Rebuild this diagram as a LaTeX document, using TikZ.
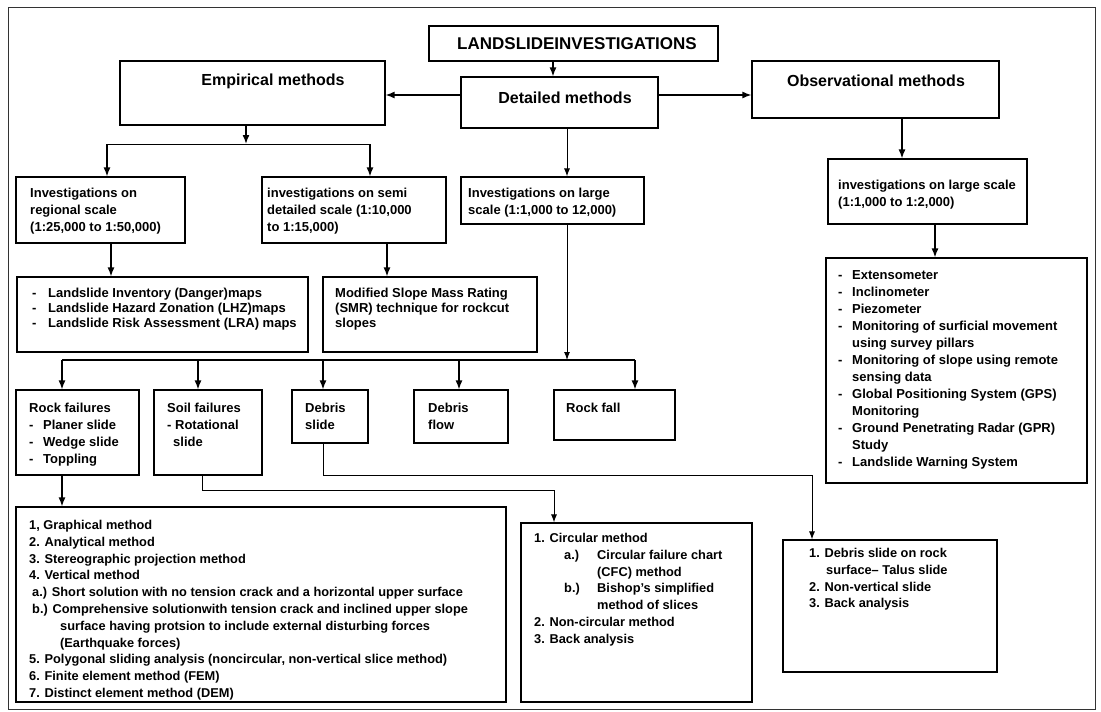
\documentclass[tikz,border=0pt]{standalone}
\usepackage{fontspec}
\setmainfont{Liberation Sans}
\usetikzlibrary{arrows.meta,fit}
\begin{document}
\begin{tikzpicture}[x=1pt,y=-1pt,
  bx/.style={draw, line width=1.1pt, inner sep=0pt},
  hd/.style={font=\fontsize{16}{19}\selectfont\bfseries, inner sep=0pt},
  tx/.style={font=\fontsize{13}{17}\selectfont\bfseries, inner sep=0pt, anchor=north west, align=left},
  txs/.style={font=\fontsize{13}{15}\selectfont\bfseries, inner sep=0pt, anchor=north west, align=left},
  txb/.style={font=\fontsize{12.8}{16.8}\selectfont\bfseries, inner sep=0pt, anchor=north west, align=left},
  arr/.style={line width=1.5pt, -{Latex[length=9pt,width=7pt]}},
  arrthin/.style={line width=1pt, -{Latex[length=8pt,width=6pt]}},
  thinln/.style={line width=1pt}]
\useasboundingbox (0,0) rectangle (1101,712);
% outer frame
\draw[line width=0.8pt, black!80] (8,7) rectangle (1095,709);

% top level
\node[bx, fit={(429,26) (718,61)}] (title) {};
\node[hd, font=\fontsize{17}{20}\selectfont\bfseries] (titlet) at (577,44) {LANDSLIDEINVESTIGATIONS};
\node[bx, fit={(120,61) (385,125)}] (emp) {};
\node[hd] (empt) at (273,81) {Empirical methods};
\node[bx, fit={(461,77) (658,128)}] (det) {};
\node[hd] (dett) at (565,98) {Detailed methods};
\node[bx, fit={(752,61) (999,118)}] (obs) {};
\node[hd] (obst) at (876,81) {Observational methods};

% investigation scale boxes
\node[bx, fit={(16,177) (185,243)}] (reg) {};
\node[tx] (regt) at (30,188) {Investigations on\\regional scale\\(1:25,000 to 1:50,000)};
\node[bx, fit={(262,177) (446,243)}] (semi) {};
\node[tx] (semit) at (267,188) {investigations on semi\\detailed scale (1:10,000\\to 1:15,000)};
\node[bx, fit={(461,177) (644,224)}] (large) {};
\node[tx] (larget) at (468,188) {Investigations on large\\scale (1:1,000 to 12,000)};
\node[bx, fit={(828,159) (1027,224)}] (obsinv) {};
\node[tx] (obsinvt) at (838,180) {investigations on large scale\\(1:1,000 to 1:2,000)};

% maps and SMR
\node[bx, fit={(17,277) (308,352)}] (maps) {};
\node[txs] (mapst) at (32,288) {\makebox[16pt][l]{-}Landslide Inventory (Danger)maps\\
\makebox[16pt][l]{-}Landslide Hazard Zonation (LHZ)maps\\
\makebox[16pt][l]{-}Landslide Risk Assessment (LRA) maps};
\node[bx, fit={(323,277) (537,352)}] (smr) {};
\node[txs] (smrt) at (335,288) {Modified Slope Mass Rating\\(SMR) technique for rockcut\\slopes};

% monitoring
\node[bx, fit={(826,258) (1087,483)}] (mon) {};
\node[tx] (mont) at (838,270) {\makebox[14pt][l]{-}Extensometer\\
\makebox[14pt][l]{-}Inclinometer\\
\makebox[14pt][l]{-}Piezometer\\
\makebox[14pt][l]{-}Monitoring of surficial movement\\
\hspace*{14pt}using survey pillars\\
\makebox[14pt][l]{-}Monitoring of slope using remote\\
\hspace*{14pt}sensing data\\
\makebox[14pt][l]{-}Global Positioning System (GPS)\\
\hspace*{14pt}Monitoring\\
\makebox[14pt][l]{-}Ground Penetrating Radar (GPR)\\
\hspace*{14pt}Study\\
\makebox[14pt][l]{-}Landslide Warning System};

% failure types
\node[bx, fit={(16,390) (139,475)}] (rockf) {};
\node[tx] (rockft) at (29,403) {Rock failures\\
\makebox[14pt][l]{-}Planer slide\\
\makebox[14pt][l]{-}Wedge slide\\
\makebox[14pt][l]{-}Toppling};
\node[bx, fit={(154,390) (262,475)}] (soil) {};
\node[tx] (soilt) at (167,403) {Soil failures\\- Rotational\\\hspace*{6pt}slide};
\node[bx, fit={(292,390) (368,443)}] (dslide) {};
\node[tx] (dslidet) at (305,403) {Debris\\slide};
\node[bx, fit={(414,390) (508,443)}] (dflow) {};
\node[tx] (dflowt) at (428,403) {Debris\\flow};
\node[bx, fit={(554,390) (675,440)}] (rfall) {};
\node[tx] (rfallt) at (566,403) {Rock fall};

% analysis boxes
\node[bx, fit={(16,507) (506,702)}] (big) {};
\node[txb] (bigt) at (29,520) {1, Graphical method\\
2. Analytical method\\
3. Stereographic projection method\\
4. Vertical method\\
\hspace*{3pt}a.) Short solution with no tension crack and a horizontal upper surface\\
\hspace*{3pt}b.) Comprehensive solutionwith tension crack and inclined upper slope\\
\hspace*{31pt}surface having protsion to include external disturbing forces\\
\hspace*{31pt}(Earthquake forces)\\
5. Polygonal sliding analysis (noncircular, non-vertical slice method)\\
6. Finite element method (FEM)\\
7. Distinct element method (DEM)};
\node[bx, fit={(521,523) (752,702)}] (circ) {};
\node[txb] (circt) at (534,533) {1. Circular method\\
\hspace*{30pt}\makebox[33pt][l]{a.)}Circular failure chart\\
\hspace*{63pt}(CFC) method\\
\hspace*{30pt}\makebox[33pt][l]{b.)}Bishop's simplified\\
\hspace*{63pt}method of slices\\
2. Non-circular method\\
3. Back analysis};
\node[bx, fit={(783,540) (997,672)}] (talus) {};
\node[txb] (talust) at (809,548) {1. Debris slide on rock\\
\hspace*{17pt}surface-- Talus slide\\
2. Non-vertical slide\\
3. Back analysis};

% connectors
\coordinate (xTD) at (553,0);
\draw[arr] (title.south -| xTD) -- (det.north -| xTD);
\coordinate (yH) at (0,95);
\draw[arr] (det.west |- yH) -- (emp.east |- yH);
\draw[arr] (det.east |- yH) -- (obs.west |- yH);
\coordinate (xE) at (246,144);
\draw[arr] (emp.south -| xE) -- (xE);
\coordinate (sL) at (107,144);
\coordinate (sR) at (370,144);
\draw[thinln] (sL) -- (sR);
\draw[arr] (sL) -- (reg.north -| sL);
\draw[arr] (sR) -- (semi.north -| sR);
\coordinate (xD) at (567,0);
\draw[arrthin] (det.south -| xD) -- (large.north -| xD);
\coordinate (xO) at (902,0);
\draw[arr] (obs.south -| xO) -- (obsinv.north -| xO);
\coordinate (xOI) at (935,0);
\draw[arr] (obsinv.south -| xOI) -- (mon.north -| xOI);
\coordinate (xR) at (111,0);
\draw[arr] (reg.south -| xR) -- (maps.north -| xR);
\coordinate (xS) at (387,0);
\draw[arr] (semi.south -| xS) -- (smr.north -| xS);
\coordinate (bL) at (62,360);
\coordinate (bR) at (635,360);
\coordinate (bD) at (567,360);
\draw[arrthin] (large.south -| bD) -- (bD);
\draw[line width=1.3pt] (bL) -- (bR);
\draw[arr] (bL) -- (rockf.north -| bL);
\coordinate (b2) at (198,360);
\draw[arr] (b2) -- (soil.north -| b2);
\coordinate (b3) at (323,360);
\draw[arr] (b3) -- (dslide.north -| b3);
\coordinate (b4) at (459,360);
\draw[arr] (b4) -- (dflow.north -| b4);
\draw[arr] (bR) -- (rfall.north -| bR);
\draw[arr] (rockf.south -| bL) -- (big.north -| bL);
\coordinate (s1) at (202,490);
\coordinate (s2) at (554,490);
\draw[arrthin] (soil.south -| s1) -- (s1) -- (s2) -- (circ.north -| s2);
\coordinate (d1) at (323,475);
\coordinate (d2) at (812,475);
\draw[arrthin] (dslide.south -| d1) -- (d1) -- (d2) -- (talus.north -| d2);
\end{tikzpicture}
\end{document}
